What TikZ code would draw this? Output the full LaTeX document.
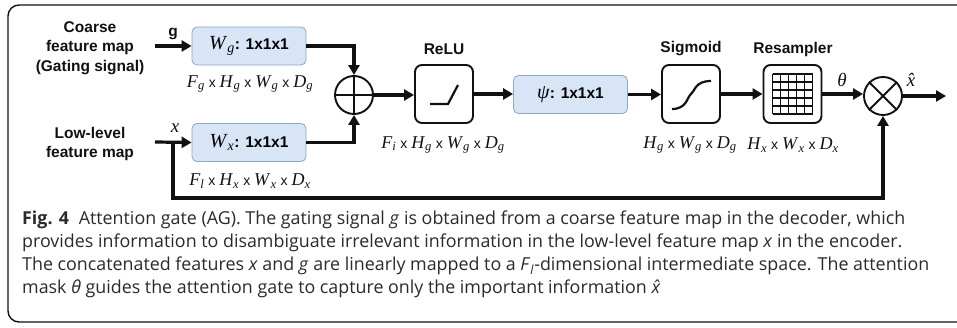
\documentclass[tikz,border=0pt]{standalone}
\usepackage{fontspec}
\setmainfont{Liberation Serif}
\setsansfont{Liberation Sans}
\newfontfamily\capfont{Open Sans}
\usetikzlibrary{arrows.meta}

\definecolor{boxfill}{HTML}{D7E5F6}
\definecolor{boxedge}{HTML}{8FA6C4}
\definecolor{ink}{HTML}{111111}
\definecolor{capink}{HTML}{2A2A2A}

% italic symbol with italic subscript, e.g. F_g
\newcommand\symsub[2]{\textit{#1}\textsubscript{\textit{#2}}}
% the small sans "x" between tensor dimensions
\newcommand\dimx{\hspace{0.22em}{\sffamily\fontsize{14}{15}\selectfont x}\hspace{0.22em}}
% symbol part of a 1x1x1 convolution label
\newcommand\convsym[1]{{\rmfamily\mdseries\fontsize{20}{22}\selectfont #1}}

\begin{document}
\begin{tikzpicture}[x=1pt,y=-1pt,
  wire/.style={line width=3.2pt, draw=ink},
  arr/.style={wire, -{Triangle[length=10pt,width=11pt]}},
  convbox/.style={draw=boxedge, fill=boxfill, rounded corners=5pt, line width=0.8pt,
    minimum width=114pt, minimum height=38pt, inner sep=0pt,
    font=\sffamily\bfseries\fontsize{15.5}{17}\selectfont},
  opbox/.style={draw=ink, fill=white, line width=1.9pt, rounded corners=7pt,
    minimum width=58pt, minimum height=58pt, inner sep=0pt},
  junction/.style={circle, draw=ink, line width=1.9pt, minimum size=38pt, inner sep=0pt},
  lbl/.style={font=\sffamily\bfseries\fontsize{15.5}{19.5}\selectfont, align=center, text=ink},
  dimlbl/.style={font=\rmfamily\fontsize{18}{20}\selectfont, text=ink, inner sep=0pt},
  sym/.style={font=\rmfamily\itshape\fontsize{19}{21}\selectfont, text=ink, inner sep=0pt},
  capline/.style={anchor=base west, inner sep=0pt, text=capink,
    font=\capfont\fontsize{17.85}{20}\selectfont}
]
\useasboundingbox (0,0) rectangle (957,328);

% frame round the figure and its caption
\draw[line width=1.4pt, draw=ink, rounded corners=11pt]
  (960,5) -- (8,5) -- (8,322) -- (960,322);

% inputs
\node[lbl] (coarse) at (90,48) {Coarse\\feature map\\(Gating signal)};
\node[lbl] (lowlev) at (90,144) {Low-level\\feature map};
\coordinate (gstart) at (155,46);
\coordinate (xstart) at (155,142);
\coordinate (xsplit) at (173,142);
\coordinate (loopc) at (173,198);

% linear maps
\node[convbox] (wg) at (249,46) {\convsym{\symsub{W}{g}}: 1x1x1};
\node[convbox] (wx) at (249,142.5) {\convsym{\symsub{W}{x}}: 1x1x1};
\node[dimlbl] (wgdim) at (250,84) {\symsub{F}{g}\dimx\symsub{H}{g}\dimx\symsub{W}{g}\dimx\symsub{D}{g}};
\node[dimlbl] (wxdim) at (250,181) {\symsub{F}{l}\dimx\symsub{H}{x}\dimx\symsub{W}{x}\dimx\symsub{D}{x}};

% additive junction
\node[junction] (sum) at (354,95) {};
\draw[line width=1.9pt, draw=ink] (sum.north) -- (sum.south) (sum.west) -- (sum.east);

% ReLU
\node[opbox] (relu) at (444,94) {};
\node[lbl] (relulbl) at (444,49) {ReLU};
\draw[line width=2.2pt, draw=ink] ([shift={(-14,10)}]relu.center) -- ([shift={(4,10)}]relu.center) -- ([shift={(14,-9)}]relu.center);
\node[dimlbl] (reludim) at (443,145) {\symsub{F}{i}\dimx\symsub{H}{g}\dimx\symsub{W}{g}\dimx\symsub{D}{g}};

% psi
\node[convbox] (psi) at (570.5,94.5) {\convsym{\textit{ψ}}: 1x1x1};

% Sigmoid
\node[opbox] (sigm) at (691,94) {};
\node[lbl] (sigmlbl) at (691,49) {Sigmoid};
\draw[line width=2.2pt, draw=ink] ([shift={(-19,15)}]sigm.center)
  .. controls ([shift={(-4,15)}]sigm.center) and ([shift={(-4,3)}]sigm.center) .. (sigm.center)
  .. controls ([shift={(4,-3)}]sigm.center) and ([shift={(4,-13)}]sigm.center) .. ([shift={(20,-13)}]sigm.center);
\node[dimlbl] (sigmdim) at (690,145) {\symsub{H}{g}\dimx\symsub{W}{g}\dimx\symsub{D}{g}};

% Resampler with its 5x5 grid
\node[opbox] (resam) at (792.5,94) {};
\node[lbl] (resamlbl) at (793,49) {Resampler};
\foreach \k in {-20,-12,-4,4,12,20} {
  \draw[line width=1.5pt, draw=ink] ([shift={(\k,-20)}]resam.center) -- ([shift={(\k,20)}]resam.center);
  \draw[line width=1.5pt, draw=ink] ([shift={(-20,\k)}]resam.center) -- ([shift={(20,\k)}]resam.center);
}
\node[dimlbl] (resamdim) at (793,145) {\symsub{H}{x}\dimx\symsub{W}{x}\dimx\symsub{D}{x}};

% multiplicative junction
\node[junction] (mul) at (883,96) {};
\draw[line width=1.9pt, draw=ink] (mul.north east) -- (mul.south west) (mul.north west) -- (mul.south east);
\coordinate (xout) at (946,96);

% connectors
\draw[arr] (gstart) -- (wg.west);
\draw[arr] (xstart) -- (wx.west);
\node[lbl] (glbl) at (173,34) {g};
\node[sym] (xlbl) at (175,128) {x};
\draw[arr] (wg.east) -| (sum.north);
\draw[arr] (wx.east) -| (sum.south);
\draw[arr] (sum.east) -- (sum.east -| relu.west);
\draw[arr] (relu.east) -- (relu.east -| psi.west);
\draw[arr] (psi.east) -- (psi.east -| sigm.west);
\draw[arr] (sigm.east) -- (sigm.east -| resam.west);
\draw[arr] (resam.east) -- (resam.east -| mul.west);
\draw[arr] (mul.east) -- (xout);
\draw[arr] (xsplit) -- (loopc) -| (mul.south);
\node[sym] (thetalbl) at (842,80) {θ};
\node[sym] (xhatlbl) at (911,80) {\^{x}};

% caption
\node[capline] (cap1) at (22,225) {\textbf{Fig. 4}\hspace{0.55em}Attention gate (AG). The gating signal \textit{g} is obtained from a coarse feature map in the decoder, which};
\node[capline] (cap2) at (22,248) {provides information to disambiguate irrelevant information in the low-level feature map \textit{x} in the encoder.};
\node[capline] (cap3) at (22,270.5) {The concatenated features \textit{x} and \textit{g} are linearly mapped to a \textit{F}\textsubscript{\textit{l}}-dimensional intermediate space. The attention};
\node[capline] (cap4) at (22,293) {mask \textit{θ} guides the attention gate to capture only the important information \textit{\^{x}}};
\end{tikzpicture}
\end{document}
